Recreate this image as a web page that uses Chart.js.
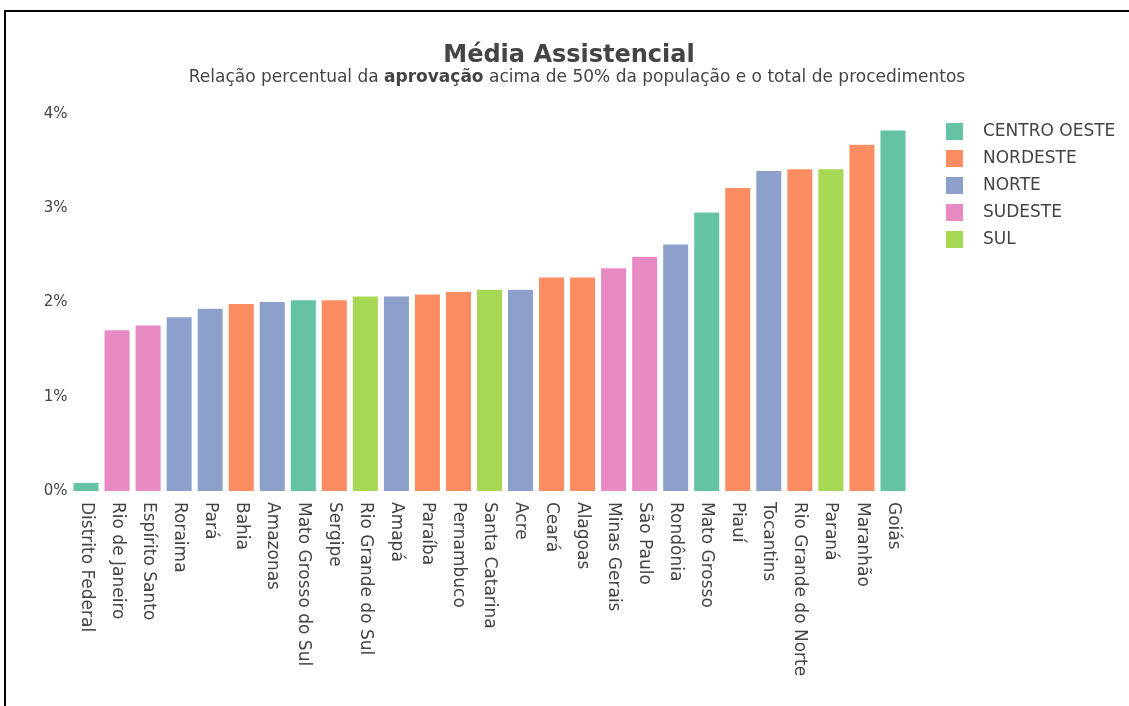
<!DOCTYPE html>
<html>
<head>
<meta charset="utf-8">
<script src="https://cdn.jsdelivr.net/npm/chart.js@4"></script>
<style>
  html, body { margin: 0; padding: 0; background: #fff; overflow: hidden; }
  #frame { position: absolute; left: 4px; top: 10px; width: 1300px; height: 900px;
           border-top: 2px solid #000; border-left: 2px solid #000; }
  #chart { position: absolute; left: 0; top: 0; }
</style>
</head>
<body>
<div id="frame"></div>
<canvas id="chart" width="1129" height="706"></canvas>
<script>
// ================== Dados ==================
const estados = ["Distrito Federal", "Rio de Janeiro", "Espírito Santo", "Roraima", "Pará", "Bahia",
  "Amazonas", "Mato Grosso do Sul", "Sergipe", "Rio Grande do Sul", "Amapá", "Paraíba", "Pernambuco",
  "Santa Catarina", "Acre", "Ceará", "Alagoas", "Minas Gerais", "São Paulo", "Rondônia", "Mato Grosso",
  "Piauí", "Tocantins", "Rio Grande do Norte", "Paraná", "Maranhão", "Goiás"];
const valores = [0.09, 1.71, 1.76, 1.85, 1.94, 1.99, 2.01, 2.03, 2.03, 2.07, 2.07, 2.09, 2.12,
  2.14, 2.14, 2.27, 2.27, 2.37, 2.49, 2.62, 2.96, 3.22, 3.40, 3.42, 3.42, 3.68, 3.83];
const regiaoDoEstado = ["CENTRO OESTE", "SUDESTE", "SUDESTE", "NORTE", "NORTE", "NORDESTE",
  "NORTE", "CENTRO OESTE", "NORDESTE", "SUL", "NORTE", "NORDESTE", "NORDESTE",
  "SUL", "NORTE", "NORDESTE", "NORDESTE", "SUDESTE", "SUDESTE", "NORTE", "CENTRO OESTE",
  "NORDESTE", "NORTE", "NORDESTE", "SUL", "NORDESTE", "CENTRO OESTE"];
const regioes = ["CENTRO OESTE", "NORDESTE", "NORTE", "SUDESTE", "SUL"];
const cores = ["#66c2a5", "#fc8d62", "#8da0cb", "#e78ac3", "#a6d854"];
const ticksY = [0, 1, 2, 3, 4];

const FONTE = "'DejaVu Sans', sans-serif";
const CINZA = "#444";

// um dataset por região (empilhado para não agrupar as barras)
const datasets = regioes.map((r, i) => ({
  label: r,
  data: valores.map((v, k) => regiaoDoEstado[k] === r ? v : null),
  backgroundColor: cores[i],
  borderColor: "rgba(255,255,255,0.6)",
  borderWidth: 0.5,
  barPercentage: 0.84,
  categoryPercentage: 1
}));

// ================== Título, legenda e rótulos do eixo X ==================
const extras = {
  id: "extras",
  afterDraw(chart) {
    const ctx = chart.ctx;
    ctx.save();
    ctx.fillStyle = CINZA;

    // título
    ctx.textAlign = "center";
    ctx.textBaseline = "alphabetic";
    ctx.font = "bold 24px " + FONTE;
    ctx.fillText("Média Assistencial", 569, 62);

    // subtítulo com "aprovação" em negrito
    const partes = [
      ["Relação percentual da ", "normal"],
      ["aprovação", "bold"],
      [" acima de 50% da população e o total de procedimentos", "normal"]
    ];
    let total = 0;
    partes.forEach(p => { ctx.font = p[1] + " 17px " + FONTE; total += ctx.measureText(p[0]).width; });
    let x = 577 - total / 2;
    ctx.textAlign = "left";
    partes.forEach(p => {
      ctx.font = p[1] + " 17px " + FONTE;
      ctx.fillText(p[0], x, 82);
      x += ctx.measureText(p[0]).width;
    });

    // rótulos do eixo X, lidos de cima para baixo
    const xs = chart.scales.x;
    ctx.font = "17px " + FONTE;
    ctx.textBaseline = "middle";
    estados.forEach((nome, i) => {
      ctx.save();
      ctx.translate(xs.getPixelForTick(i), chart.chartArea.bottom + 11);
      ctx.rotate(Math.PI / 2);
      ctx.fillText(nome, 0, 0);
      ctx.restore();
    });

    // legenda
    chart.data.datasets.forEach((ds, i) => {
      const y = 131 + i * 27;
      ctx.fillStyle = ds.backgroundColor;
      ctx.fillRect(946, y - 8, 17, 17);
      ctx.fillStyle = CINZA;
      ctx.font = "17px " + FONTE;
      ctx.textBaseline = "middle";
      ctx.fillText(ds.label, 983, y + 1);
    });
    ctx.restore();
  }
};

// ================== Gráfico ==================
new Chart(document.getElementById("chart"), {
  type: "bar",
  data: { labels: estados, datasets: datasets },
  plugins: [extras],
  options: {
    responsive: false,
    animation: false,
    layout: { padding: { left: 0, right: 220.5, top: 114, bottom: 215 } },
    plugins: {
      legend: { display: false },
      tooltip: { enabled: false }
    },
    scales: {
      x: {
        stacked: true,
        grid: { display: false },
        border: { display: false },
        ticks: { display: false },
        afterFit: s => { s.height = 0; }
      },
      y: {
        stacked: true,
        min: 0,
        max: 4,
        grid: { display: false, drawTicks: false },
        border: { display: false },
        afterFit: s => { s.width = 70.5; },
        afterBuildTicks: s => { s.ticks = ticksY.map(v => ({ value: v })); },
        ticks: {
          color: CINZA,
          padding: 3,
          font: { family: FONTE, size: 15 },
          callback: v => v + "%"
        }
      }
    }
  }
});
</script>
</body>
</html>
